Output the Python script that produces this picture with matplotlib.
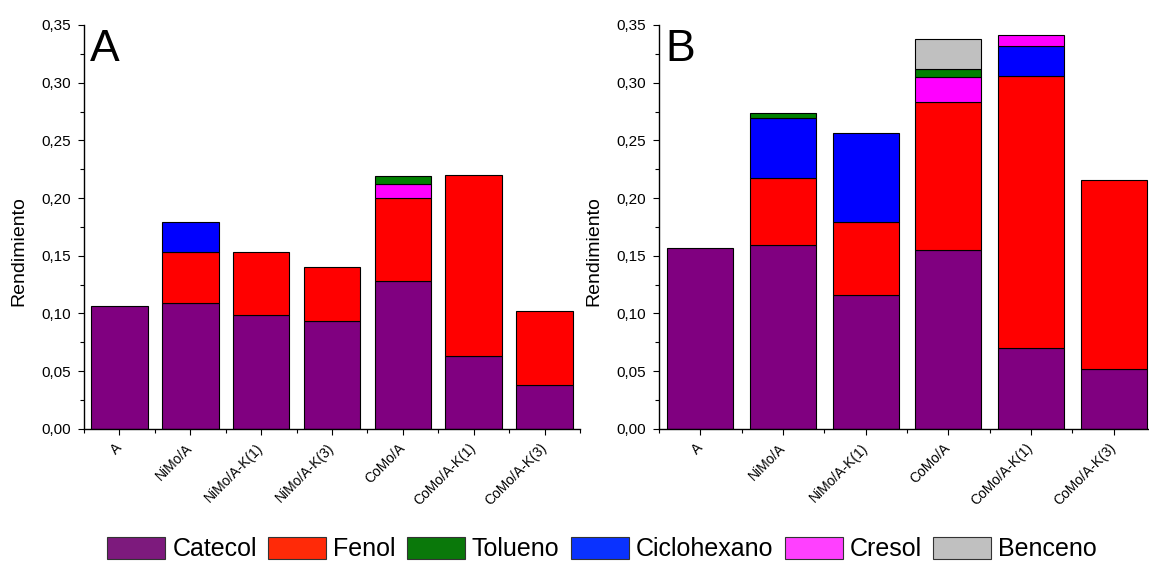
import numpy as np
import matplotlib.pyplot as plt
from matplotlib.patches import Patch
from matplotlib.ticker import FuncFormatter, MultipleLocator, FixedLocator

plt.rcParams['font.family'] = ['Liberation Sans', 'DejaVu Sans']

# catalyst names for each panel
cats_A = ['A', 'NiMo/A', 'NiMo/A-K(1)', 'NiMo/A-K(3)', 'CoMo/A', 'CoMo/A-K(1)', 'CoMo/A-K(3)']
cats_B = ['A', 'NiMo/A', 'NiMo/A-K(1)', 'CoMo/A', 'CoMo/A-K(1)', 'CoMo/A-K(3)']

# yield of each product (stacked segment size), panel A
catecol_A     = [0.106, 0.109, 0.099, 0.093, 0.128, 0.063, 0.038]
fenol_A       = [0.000, 0.044, 0.054, 0.047, 0.072, 0.157, 0.064]
ciclohexano_A = [0.000, 0.026, 0.000, 0.000, 0.000, 0.000, 0.000]
cresol_A      = [0.000, 0.000, 0.000, 0.000, 0.012, 0.000, 0.000]
tolueno_A     = [0.000, 0.000, 0.000, 0.000, 0.007, 0.000, 0.000]
benceno_A     = [0.000, 0.000, 0.000, 0.000, 0.000, 0.000, 0.000]

# panel B
catecol_B     = [0.157, 0.159, 0.116, 0.155, 0.070, 0.052]
fenol_B       = [0.000, 0.058, 0.063, 0.128, 0.236, 0.164]
ciclohexano_B = [0.000, 0.052, 0.077, 0.000, 0.026, 0.000]
cresol_B      = [0.000, 0.000, 0.000, 0.022, 0.009, 0.000]
tolueno_B     = [0.000, 0.005, 0.000, 0.007, 0.000, 0.000]
benceno_B     = [0.000, 0.000, 0.000, 0.026, 0.000, 0.000]

colors = {'Catecol': '#800080', 'Fenol': '#ff0000', 'Ciclohexano': '#0000ff',
          'Cresol': '#ff00ff', 'Tolueno': '#008000', 'Benceno': '#c0c0c0'}
legend_colors = {'Catecol': '#7d1a7d', 'Fenol': '#ff2a08', 'Tolueno': '#0a780a',
                 'Ciclohexano': '#0a32ff', 'Cresol': '#ff40ff', 'Benceno': '#c0c0c0'}


def comma_fmt(v, pos):
    return f'{v:.2f}'.replace('.', ',')


def stacked_panel(ax, cats, series, letter):
    x = np.arange(1, len(cats) + 1)
    bottom = np.zeros(len(cats))
    for name, vals in series:
        vals = np.asarray(vals)
        keep = vals > 0
        ax.bar(x[keep], vals[keep], width=0.8, bottom=bottom[keep],
               color=colors[name], edgecolor='black', linewidth=0.8, zorder=2)
        bottom = bottom + vals

    ax.set_xlim(0.5, len(cats) + 0.5)
    ax.set_ylim(0, 0.35)
    ax.spines['top'].set_visible(False)
    ax.spines['right'].set_visible(False)
    for s in ['left', 'bottom']:
        ax.spines[s].set_linewidth(1.0)

    ax.yaxis.set_major_locator(MultipleLocator(0.05))
    ax.yaxis.set_minor_locator(MultipleLocator(0.025))
    ax.yaxis.set_major_formatter(FuncFormatter(comma_fmt))
    ax.set_xticks(x)
    ax.set_xticklabels(cats, rotation=45, ha='right', va='center',
                       rotation_mode='anchor', fontsize=10)
    ax.xaxis.set_minor_locator(FixedLocator(np.arange(0.5, len(cats) + 1, 1)))

    ax.tick_params(axis='y', which='major', length=4.3, width=0.8, labelsize=11, pad=5)
    ax.tick_params(axis='y', which='minor', length=2.9, width=0.8)
    ax.tick_params(axis='x', which='major', length=4.3, width=0.8, pad=8)
    ax.tick_params(axis='x', which='minor', length=2.9, width=0.8)

    ax.text(0.012, 0.911, letter, transform=ax.transAxes, fontsize=32,
            va='baseline', ha='left')


fig = plt.figure(figsize=(11.49, 5.62), dpi=100)
W, H = 1149, 562
axA = fig.add_axes([84 / W, 1 - 428.7 / H, 496 / W, 403.7 / H])
axB = fig.add_axes([659 / W, 1 - 428.7 / H, 496 / W, 403.7 / H])

stacked_panel(axA, cats_A, [('Catecol', catecol_A), ('Fenol', fenol_A),
                            ('Ciclohexano', ciclohexano_A), ('Cresol', cresol_A),
                            ('Tolueno', tolueno_A), ('Benceno', benceno_A)], 'A')
stacked_panel(axB, cats_B, [('Catecol', catecol_B), ('Fenol', fenol_B),
                            ('Ciclohexano', ciclohexano_B), ('Cresol', cresol_B),
                            ('Tolueno', tolueno_B), ('Benceno', benceno_B)], 'B')

fig.text(19 / W, 1 - 251 / H, 'Rendimiento', rotation=90, fontsize=14,
         ha='center', va='center')
fig.text(594 / W, 1 - 251 / H, 'Rendimiento', rotation=90, fontsize=14,
         ha='center', va='center')

legend_order = ['Catecol', 'Fenol', 'Tolueno', 'Ciclohexano', 'Cresol', 'Benceno']
handles = [Patch(facecolor=legend_colors[n], edgecolor='#333333', linewidth=0.8, label=n)
           for n in legend_order]
fig.legend(handles=handles, loc='center', bbox_to_anchor=(602 / W, 1 - 549 / H),
           ncol=6, frameon=False, fontsize=18, handlelength=2.32, handleheight=0.96,
           handletextpad=0.28, columnspacing=0.45, borderpad=0, borderaxespad=0)

fig.savefig('out.png', dpi=100)
